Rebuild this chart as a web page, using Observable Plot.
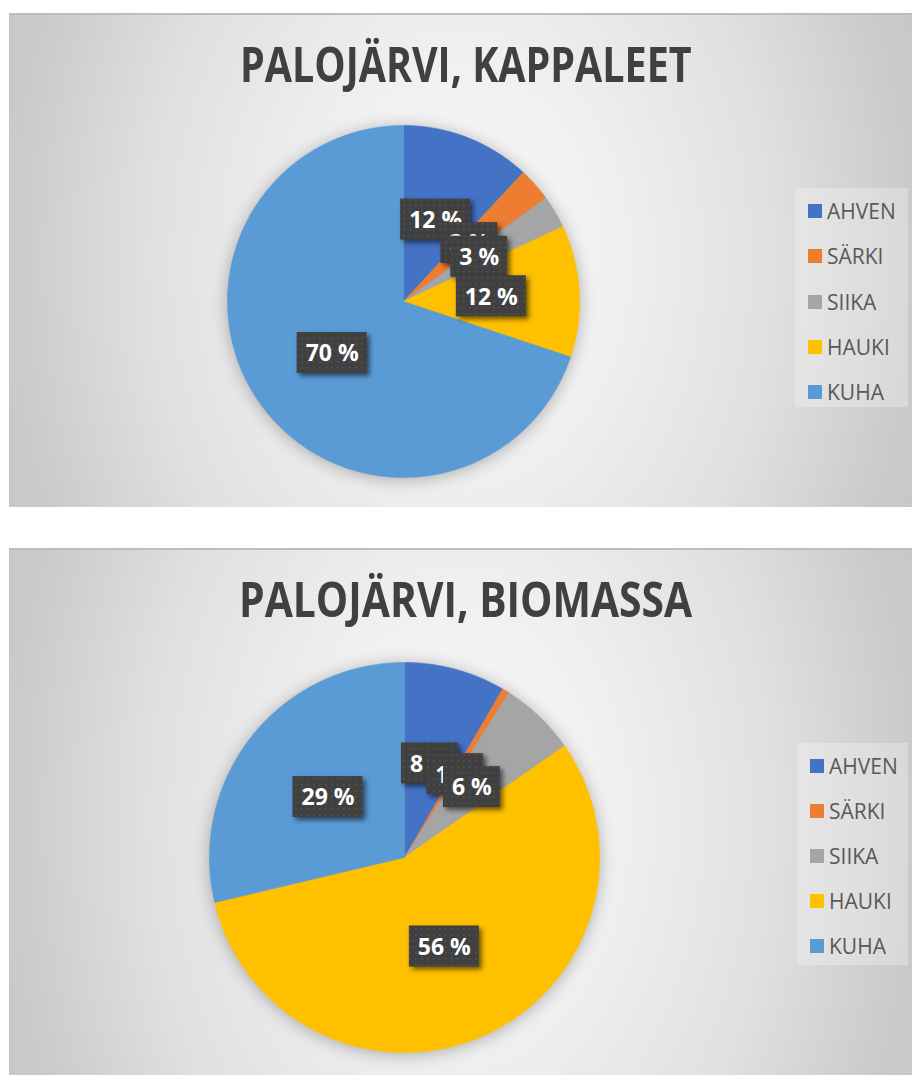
<!DOCTYPE html>
<html>
<head>
<meta charset="utf-8">
<script src="https://cdn.jsdelivr.net/npm/d3@7"></script>
<script src="https://cdn.jsdelivr.net/npm/@observablehq/plot@0.6"></script>
<style>
  html, body { margin: 0; padding: 0; background: #ffffff; width: 912px; height: 1075px; overflow: hidden; }
  .panel {
    position: absolute; left: 9px; width: 904px;
    background: radial-gradient(ellipse 56% 140% at 50% 50%, #f9f9f9 0%, #f0f0f0 30%, #e0e0e0 62%, #cbcbcb 88%, #c6c6c6 100%);
    box-shadow: inset 0 2px 0 #bdbdbd, inset 1px 0 0 #c2c2c2;
    font-family: "Open Sans", "DejaVu Sans", sans-serif;
  }
  .title {
    position: absolute; left: 57px; width: 800px; text-align: center;
    font-size: 48px; line-height: 48px; font-weight: 700; color: #404040;
    white-space: nowrap;
  }
  .title span { display: inline-block; transform-origin: 50% 50%; }
  .legend { position: absolute; background: rgba(255,255,255,0.28); }
  .legend .item { position: absolute; left: 13px; height: 24px; display: flex; align-items: center; }
  .legend .sw { width: 14px; height: 14px; margin-right: 5px; }
  .legend .lab { font-size: 21px; color: #595959; line-height: 24px; }
  .pie { position: absolute; }
  .pie svg { overflow: visible; }
  .pie g[aria-label="line"] { filter: drop-shadow(0px 2px 8px rgba(0,0,0,0.28)); }
  .pie g[aria-label="rect"] rect { fill: url(#dots); filter: drop-shadow(3px 3px 2.5px rgba(0,0,0,0.55)); }
</style>
</head>
<body>
<svg width="0" height="0" style="position:absolute">
  <defs>
    <pattern id="dots" width="6" height="6" patternUnits="userSpaceOnUse">
      <rect width="6" height="6" fill="#404040"></rect>
      <rect x="2" y="2" width="1.6" height="1.6" fill="#535353"></rect>
    </pattern>
  </defs>
</svg>
<div id="p1" class="panel" style="top:13px;height:494px;"></div>
<div id="p2" class="panel" style="top:548px;height:540px;"></div>
<script>
// ---- data ----
const categories = ["AHVEN", "SÄRKI", "SIIKA", "HAUKI", "KUHA"];
const colors = ["#4472C4", "#ED7D31", "#A5A5A5", "#FFC000", "#5B9BD5"];
const kappaleetValues = [11.9, 3.1, 3.0, 12.1, 69.9];
const biomassaValues = [8.4, 0.6, 6.3, 56.0, 28.7];
const titles = ["PALOJÄRVI, KAPPALEET", "PALOJÄRVI, BIOMASSA"];

const measureCtx = document.createElement("canvas").getContext("2d");
function textWidth(t, font) { measureCtx.font = font; return measureCtx.measureText(t).width; }

function buildPanel(panelId, title, values, layout) {
  const panel = document.getElementById(panelId);

  // title
  const t = document.createElement("div");
  t.className = "title";
  t.style.top = layout.titleTop + "px";
  const span = document.createElement("span");
  span.textContent = title;
  t.appendChild(span);
  panel.appendChild(t);
  const natural = span.offsetWidth;
  span.style.transform = `scaleX(${layout.titleWidth / natural})`;

  // pie
  const R = layout.radius, m = 30;
  const total = d3.sum(values);
  const arcs = d3.pie().sort(null).value(d => d)(values);
  const pts = [];
  arcs.forEach((a, i) => {
    const name = categories[i];
    pts.push({name, x: 0, y: 0});
    const n = Math.max(2, Math.ceil((a.endAngle - a.startAngle) / (Math.PI / 360)));
    for (let k = 0; k <= n; k++) {
      const ang = a.startAngle + (a.endAngle - a.startAngle) * k / n;
      pts.push({name, x: Math.sin(ang), y: Math.cos(ang)});
    }
    pts.push({name, x: 0, y: 0});
  });
  const labelFont = "bold 23px 'Open Sans'";
  const labels = arcs.map((a, i) => {
    const mid = (a.startAngle + a.endAngle) / 2;
    const text = Math.round(values[i] / total * 100) + " %";
    const hw = (textWidth(text, labelFont) / 2 + 8.5) / R;
    const hh = 20.5 / R;
    return {name: categories[i], x: 0.5 * Math.sin(mid), y: 0.5 * Math.cos(mid), text, hw, hh};
  });

  const chart = Plot.plot({
    width: 2 * (R + m), height: 2 * (R + m), margin: m,
    x: {domain: [-1, 1], axis: null},
    y: {domain: [-1, 1], axis: null},
    color: {domain: categories, range: colors},
    style: {background: "transparent", overflow: "visible"},
    marks: [
      Plot.line(pts, {x: "x", y: "y", z: "name", fill: "name", stroke: "name", strokeWidth: 0.6}),
      ...labels.flatMap(l => [
        Plot.rect([l], {x1: d => d.x - d.hw, x2: d => d.x + d.hw, y1: d => d.y - d.hh, y2: d => d.y + d.hh, fill: "#404040"}),
        Plot.text([l], {x: "x", y: "y", text: "text", fill: "white", fontSize: 23, fontWeight: "bold", fontFamily: "Open Sans", dy: 1})
      ])
    ]
  });
  const holder = document.createElement("div");
  holder.className = "pie";
  holder.style.left = (layout.cx - R - m) + "px";
  holder.style.top = (layout.cy - R - m) + "px";
  holder.appendChild(chart);
  panel.appendChild(holder);

  // legend
  const lg = document.createElement("div");
  lg.className = "legend";
  Object.assign(lg.style, {left: layout.lgLeft + "px", top: layout.lgTop + "px", width: layout.lgW + "px", height: layout.lgH + "px"});
  categories.forEach((c, i) => {
    const it = document.createElement("div");
    it.className = "item";
    it.style.top = (layout.lgFirst + i * layout.lgStep - 12) + "px";
    const sw = document.createElement("div");
    sw.className = "sw";
    sw.style.background = colors[i];
    const lab = document.createElement("span");
    lab.className = "lab";
    lab.textContent = c;
    it.appendChild(sw); it.appendChild(lab);
    lg.appendChild(it);
  });
  panel.appendChild(lg);
}

buildPanel("p1", titles[0], kappaleetValues, {
  titleTop: 27, titleWidth: 452, cx: 394, cy: 288, radius: 176,
  lgLeft: 786, lgTop: 175, lgW: 113, lgH: 219, lgFirst: 23, lgStep: 45.25
});
buildPanel("p2", titles[1], biomassaValues, {
  titleTop: 27, titleWidth: 453, cx: 395, cy: 309, radius: 195,
  lgLeft: 788, lgTop: 195, lgW: 111, lgH: 222, lgFirst: 23, lgStep: 45
});
</script>
</body>
</html>
